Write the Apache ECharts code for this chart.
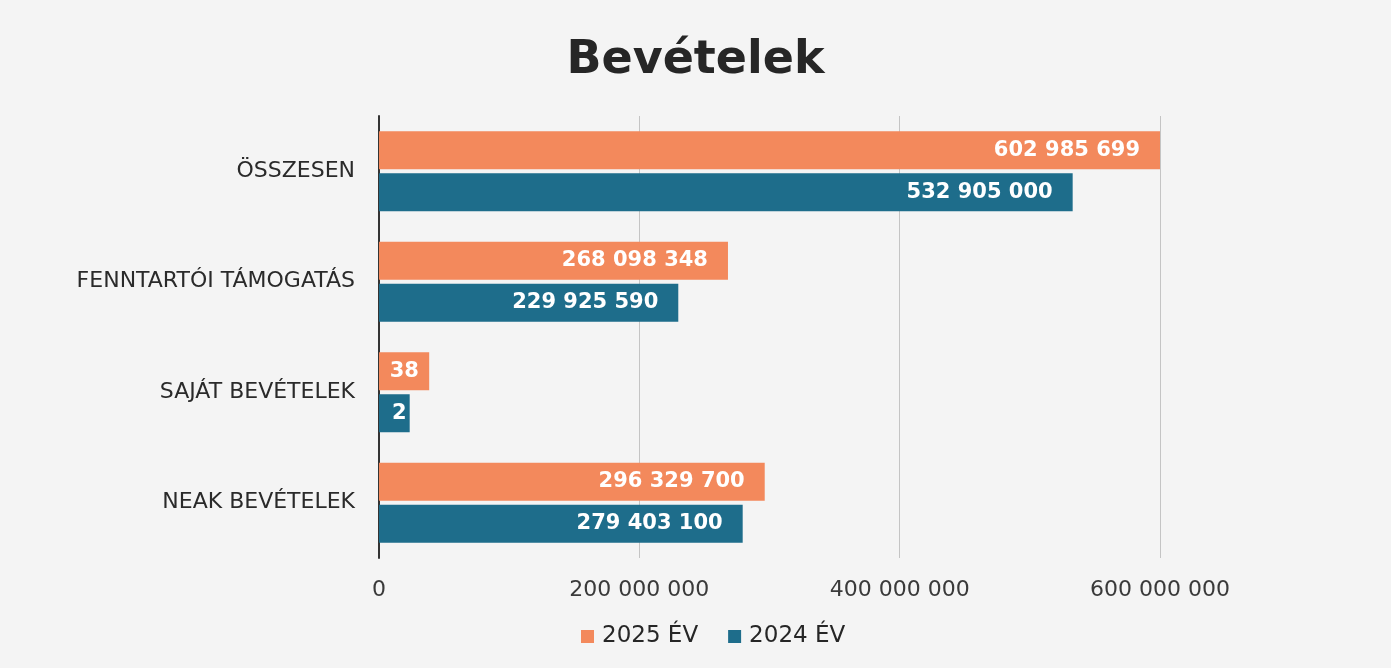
<!DOCTYPE html>
<html><head><meta charset="utf-8">
<script src="https://cdn.jsdelivr.net/npm/echarts@6/dist/echarts.min.js"></script>
<style>html,body{margin:0;padding:0;background:#f4f4f4;}#c{width:1391px;height:668px;}</style>
</head><body><div id="c"></div>
<script>
const categories = ['ÖSSZESEN', 'FENNTARTÓI TÁMOGATÁS', 'SAJÁT BEVÉTELEK', 'NEAK BEVÉTELEK'];
const values2025 = [602985699, 268098348, 38557651, 296329700];
const values2024 = [532905000, 229925590, 23576310, 279403100];
const xTicks = [0, 200000000, 400000000, 600000000];
const seriesNames = ['2025 ÉV', '2024 ÉV'];

const fmt = v => String(v).replace(/\B(?=(\d{3})+(?!\d))/g, ' ');
const labelFont = 'DejaVu Sans';
const chart = echarts.init(document.getElementById('c'), null, {renderer: 'canvas'});
const LBL = 21, DIST = 20;

function mkSeries(name, vals, color) {
  return {
    name, type: 'bar', data: vals.slice(), barWidth: 38, barGap: '10%',
    itemStyle: {color},
    label: {show: true, position: 'insideRight', distance: DIST, color: '#fff',
      fontFamily: labelFont, fontWeight: 'bold', fontSize: LBL,
      formatter: p => fmt(p.value)}
  };
}

const option = {
  backgroundColor: '#f4f4f4',
  animation: false,
  title: {text: 'Bevételek', left: 'center', top: 33,
    textStyle: {fontFamily: labelFont, fontWeight: 'bold', fontSize: 46, color: '#262626'}},
  legend: {bottom: 15, left: 576, itemWidth: 13, itemHeight: 13, itemGap: 30,
    icon: 'rect', textStyle: {fontFamily: labelFont, fontSize: 23, color: '#262626', padding: [0, 0, 0, 3]},
    data: seriesNames},
  grid: {left: 379, right: 231, top: 116, bottom: 110, containLabel: false},
  xAxis: {type: 'value', min: xTicks[0], max: xTicks[xTicks.length - 1], interval: xTicks[1] - xTicks[0],
    axisLine: {show: false}, axisTick: {show: false},
    splitLine: {lineStyle: {color: '#c4c4c4', width: 1}},
    axisLabel: {margin: 21, fontFamily: labelFont, fontSize: 22, color: '#3a3a3a',
      formatter: v => fmt(v)}},
  yAxis: {type: 'category', data: categories, inverse: true,
    axisLine: {show: true, lineStyle: {color: '#333', width: 2}},
    axisTick: {show: false},
    axisLabel: {margin: 24, fontFamily: labelFont, fontSize: 22, color: '#2a2a2a'}},
  series: [mkSeries(seriesNames[0], values2025, '#F3895C'), mkSeries(seriesNames[1], values2024, '#1E6D8B')]
};
chart.setOption(option);

// shrink labels that do not fit inside their bar (clipped like the original)
const ctx = document.createElement('canvas').getContext('2d');
ctx.font = 'bold ' + LBL + 'px "' + labelFont + '"';
const x0 = chart.convertToPixel({xAxisIndex: 0}, 0);
[values2025, values2024].forEach((vals, si) => {
  option.series[si].data = vals.map(v => {
    const len = chart.convertToPixel({xAxisIndex: 0}, v) - x0;
    const w = ctx.measureText(fmt(v)).width;
    if (w + 2 * DIST > len) {
      return {value: v, label: {width: Math.max(len - 8, 1), overflow: 'truncate', ellipsis: '', distance: 3}};
    }
    return v;
  });
});
chart.setOption(option);
</script></body></html>
